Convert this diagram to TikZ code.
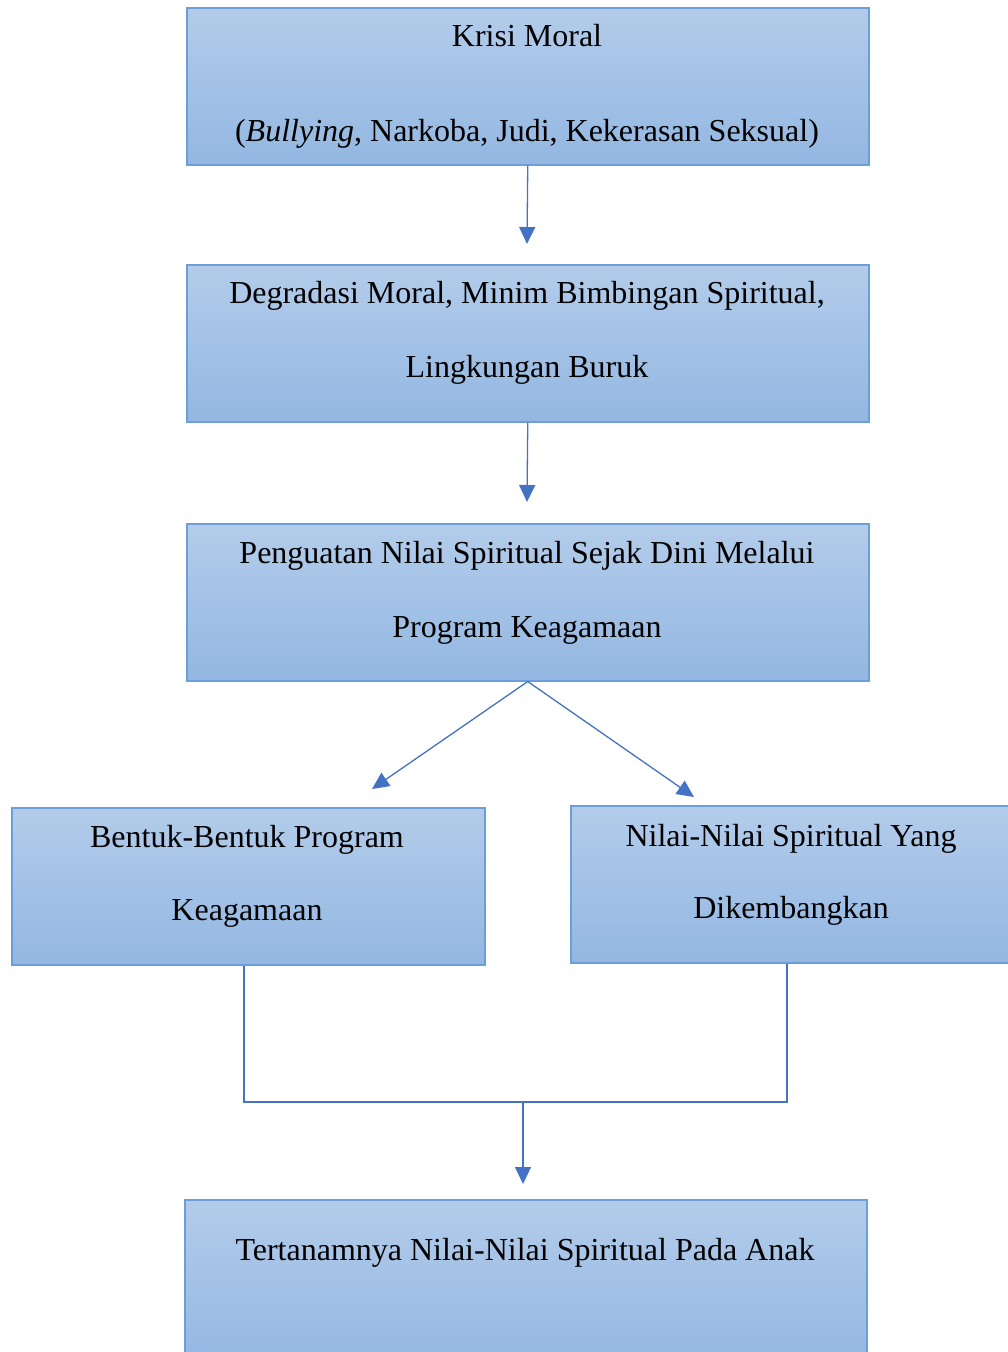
\documentclass[tikz,border=0pt]{standalone}
\usepackage{fontspec}
\setmainfont{Liberation Serif}
\usetikzlibrary{arrows.meta}
\definecolor{boxTop}{HTML}{B3CCEA}
\definecolor{boxBottom}{HTML}{93B7E2}
\definecolor{boxLine}{HTML}{6C9EDA}
\definecolor{flowLine}{HTML}{4472C4}
\newcommand{\boxFont}[0]{\fontsize{32}{38}\selectfont}

\begin{document}
\begin{tikzpicture}[x=1pt, y=-1pt]
  \tikzset{
    stage/.style={draw=boxLine, line width=1.5pt, top color=boxTop, bottom color=boxBottom,
      anchor=north west, inner sep=0pt, minimum height=157pt},
    stageText/.style={anchor=base, font=\boxFont, inner sep=0pt},
    flow/.style={draw=flowLine, line width=1.3pt, -{Triangle[length=17pt,width=16pt]}},
    bracket/.style={draw=flowLine, line width=1.3pt}
  }
  \useasboundingbox (0,0) rectangle (1008,1352);
  \clip (0,0) rectangle (1008,1352);

  \node[stage, minimum width=682pt] (krisi) at (186,7) {};
  \node[stageText] (krisi-1) at (527,46) {Krisi Moral};
  \node[stageText] (krisi-2) at (527,141) {(\textit{Bullying}, Narkoba, Judi, Kekerasan Seksual)};

  \node[stage, minimum width=682pt] (degradasi) at (186,264) {};
  \node[stageText] (degradasi-1) at (527,303) {Degradasi Moral, Minim Bimbingan Spiritual,};
  \node[stageText] (degradasi-2) at (527,377) {Lingkungan Buruk};

  \node[stage, minimum width=682pt] (penguatan) at (186,523) {};
  \node[stageText] (penguatan-1) at (527,563) {Penguatan Nilai Spiritual Sejak Dini Melalui};
  \node[stageText] (penguatan-2) at (527,637) {Program Keagamaan};

  \node[stage, minimum width=473pt] (bentuk) at (11,807) {};
  \node[stageText] (bentuk-1) at (247,847) {Bentuk-Bentuk Program};
  \node[stageText] (bentuk-2) at (247,920) {Keagamaan};

  \node[stage, minimum width=444pt] (nilai) at (570,805) {};
  \node[stageText] (nilai-1) at (791,846) {Nilai-Nilai Spiritual Yang};
  \node[stageText] (nilai-2) at (791,918) {Dikembangkan};

  \node[stage, minimum width=682pt, minimum height=165pt] (hasil) at (184,1199) {};
  \node[stageText] (hasil-1) at (525,1260) {Tertanamnya Nilai-Nilai Spiritual Pada Anak};

  \coordinate (tip-1) at (527,244);
  \coordinate (tip-2) at (527,502);
  \coordinate (tip-3) at (372,789);
  \coordinate (tip-4) at (694,797);
  \coordinate (left-end) at (244,1102);
  \coordinate (right-end) at (787,1102);
  \coordinate (mid-end) at (523,1102);
  \coordinate (tip-5) at (523,1184);

  \draw[flow] (krisi.south) -- (tip-1);
  \draw[flow] (degradasi.south) -- (tip-2);
  \draw[flow] (penguatan.south) -- (tip-3);
  \draw[flow] (penguatan.south) -- (tip-4);
  \draw[bracket] (bentuk.south -| left-end) -- (left-end) -- (right-end) -- (nilai.south -| right-end);
  \draw[flow] (mid-end) -- (tip-5);
\end{tikzpicture}
\end{document}
